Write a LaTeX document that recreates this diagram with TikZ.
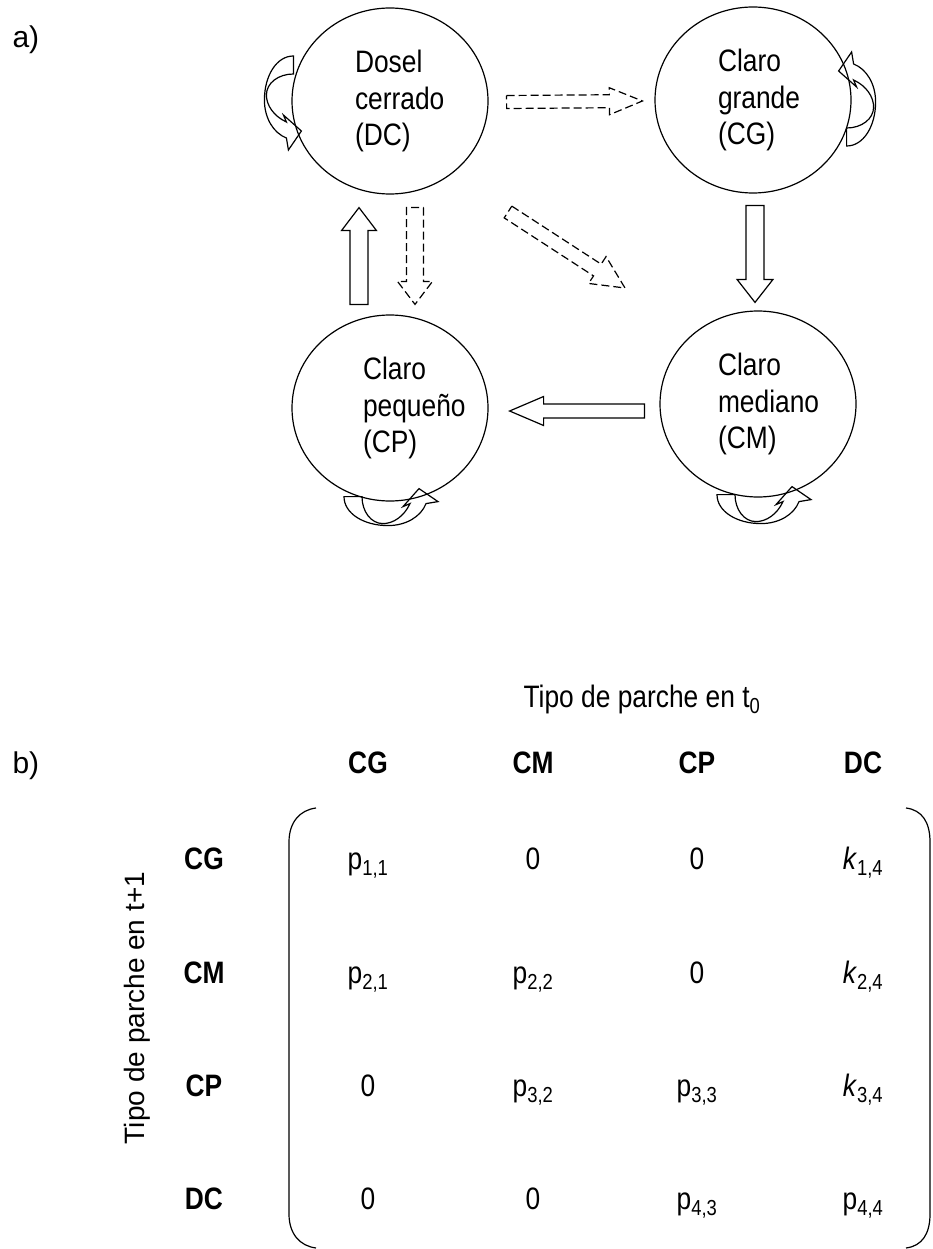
\documentclass[tikz,border=0pt]{standalone}
\usepackage{fontspec}
\setmainfont{Liberation Sans}
\newfontfamily\narrow{Liberation Sans}[FakeStretch=0.85]
\usetikzlibrary{shapes.geometric, calc}
\tikzset{
  patch/.style={draw, ellipse, line width=1.2pt, minimum width=196pt,
                minimum height=186pt, inner sep=0pt, text width=70pt, align=left,
                font=\narrow\fontsize{31}{36.5}\selectfont},
  block/.style n args={3}{line width=1.2pt, to path={
      ($(\tikztostart)!#1pt!90:(\tikztotarget)$)
      -- ($($(\tikztotarget)!#3pt!(\tikztostart)$)!#1pt!-90:(\tikztostart)$)
      -- ($($(\tikztotarget)!#3pt!(\tikztostart)$)!#2pt!-90:(\tikztostart)$)
      -- (\tikztotarget)
      -- ($($(\tikztotarget)!#3pt!(\tikztostart)$)!#2pt!90:(\tikztostart)$)
      -- ($($(\tikztotarget)!#3pt!(\tikztostart)$)!#1pt!90:(\tikztostart)$)
      -- ($(\tikztostart)!#1pt!-90:(\tikztotarget)$) -- cycle}},
  rare/.style={dash pattern=on 8pt off 4pt},
  selfloop/.pic={
    \draw[line width=1.2pt] (0,-44)
      .. controls (-17,-44) and (-29,-24) .. (-29,0)
      .. controls (-29,18) and (-20,33) .. (-7,38)
      -- (-5,50) -- (8,31) -- (-10,15) -- (-7,22)
      .. controls (-20,16) and (-27,5) .. (-27,-5)
      .. controls (-27,-17) and (-15,-26) .. (0,-26) -- cycle;
  },
  hdr/.style={anchor=base, font=\narrow\bfseries\fontsize{31}{36}\selectfont},
  cell/.style={anchor=base, font=\narrow\fontsize{31}{36}\selectfont},
  part/.style={anchor=base west, font=\fontsize{30}{36}\selectfont},
}

\begin{document}
\begin{tikzpicture}[x=1pt, y=-1pt]
  \useasboundingbox (0,0) rectangle (932,1249);

  % ---------- a) patch states ----------
  \node[part] (partA) at (9,48) {a)};
  \node[patch] (dc) at (390,101) {Dosel\\cerrado\\(DC)};
  \node[patch] (cg) at (753,100) {Claro\\grande\\(CG)};
  \node[patch, text width=54pt] (cp) at (390,408) {Claro\\peque\~no\\(CP)};
  \node[patch, text width=80pt] (cm) at (758,404) {Claro\\mediano\\(CM)};

  % transitions
  \draw[block={6.5}{13.5}{33}, rare] ([shift={(18,1)}]dc.east) to ([shift={(-12,1)}]cg.west);
  \draw[block={9}{17.5}{23}] ([shift={(-31,-10)}]cp.north) to ([shift={(-31,13)}]dc.south);
  \draw[block={8.5}{17.5}{23}, rare] ([shift={(25,13)}]dc.south) to ([shift={(25,-10)}]cp.north);
  \draw[block={7}{16}{33}, rare] ([shift={(118,111)}]dc.center) to ([shift={(-133,-116)}]cm.center);
  \draw[block={9}{18}{23}] ([shift={(2,12)}]cg.south) to ([shift={(-3,-8)}]cm.north);
  \draw[block={7}{14.5}{34}] ([shift={(-15,7)}]cm.west) to ([shift={(21,3)}]cp.east);

  % staying in the same state
  \pic at ([shift={(2,-1)}]dc.west) {selfloop};
  \pic[rotate=180] at ([shift={(-5,2)}]cg.east) {selfloop};
  \pic[rotate=90] at ([shift={(-2,-5)}]cp.south) {selfloop};
  \pic[rotate=90] at ([shift={(3,-3)}]cm.south) {selfloop};

  % ---------- b) transition matrix ----------
  \node[part] (partB) at (9,773) {b)};
  \node[cell] (t0) at (642,707) {Tipo de parche en t\textsubscript{0}};
  \node[rotate=90, font=\fontsize{28}{34}\selectfont] (t1) at (137,1008)
    {Tipo de parche en t+1};

  \node[hdr] (colCG) at (368,773) {CG};
  \node[hdr] (colCM) at (533,773) {CM};
  \node[hdr] (colCP) at (697,773) {CP};
  \node[hdr] (colDC) at (863,773) {DC};
  \node[hdr] (rowCG) at (204,869) {CG};
  \node[hdr] (rowCM) at (204,983) {CM};
  \node[hdr] (rowCP) at (204,1096) {CP};
  \node[hdr] (rowDC) at (204,1209) {DC};

  \node[cell] (m11) at (368,869) {p\textsubscript{1,1}};
  \node[cell] (m12) at (533,869) {0};
  \node[cell] (m13) at (697,869) {0};
  \node[cell] (m14) at (863,869) {\textit{k}\textsubscript{1,4}};
  \node[cell] (m21) at (368,983) {p\textsubscript{2,1}};
  \node[cell] (m22) at (533,983) {p\textsubscript{2,2}};
  \node[cell] (m23) at (697,983) {0};
  \node[cell] (m24) at (863,983) {\textit{k}\textsubscript{2,4}};
  \node[cell] (m31) at (368,1096) {0};
  \node[cell] (m32) at (533,1096) {p\textsubscript{3,2}};
  \node[cell] (m33) at (697,1096) {p\textsubscript{3,3}};
  \node[cell] (m34) at (863,1096) {\textit{k}\textsubscript{3,4}};
  \node[cell] (m41) at (368,1209) {0};
  \node[cell] (m42) at (533,1209) {0};
  \node[cell] (m43) at (697,1209) {p\textsubscript{4,3}};
  \node[cell] (m44) at (863,1209) {p\textsubscript{4,4}};

  % brackets
  \draw[line width=1.2pt] (316,808) .. controls (300,810) and (289,822) .. (289,842)
    -- (289,1214) .. controls (289,1234) and (300,1246) .. (316,1248);
  \draw[line width=1.2pt] (906,808) .. controls (922,810) and (930,822) .. (930,842)
    -- (930,1214) .. controls (930,1234) and (922,1246) .. (906,1248);

\end{tikzpicture}
\end{document}
